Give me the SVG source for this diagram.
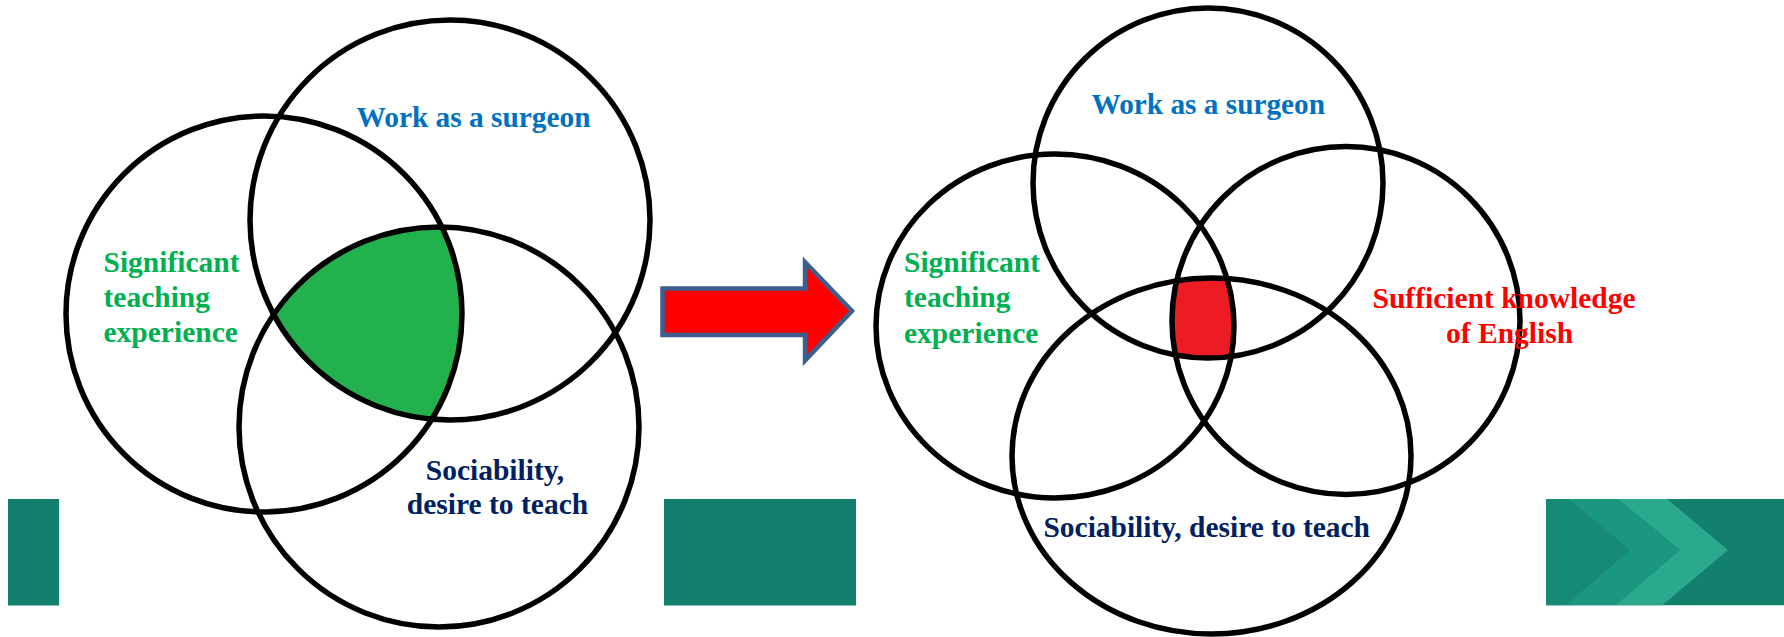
<svg xmlns="http://www.w3.org/2000/svg" width="1784" height="637" viewBox="0 0 1784 637">
<style>
.ring{fill:none;stroke:#000;stroke-width:5.5}
.t{font-family:"Liberation Serif","Times New Roman",serif;font-weight:bold;font-size:29.5px}
.blue{fill:#0070c0}.green{fill:#00b050}.navy{fill:#002060}.red{fill:#ff0000}
.teal{fill:#137f6d}
</style>
<defs>
<clipPath id="cL1"><circle cx="264" cy="314" r="198"/></clipPath>
<clipPath id="cL2"><circle cx="439" cy="427" r="200"/></clipPath>
<clipPath id="cR1"><ellipse cx="1055" cy="326" rx="179" ry="172"/></clipPath>
<clipPath id="cR2"><circle cx="1346" cy="320.5" r="174"/></clipPath>
<clipPath id="cR3"><ellipse cx="1211.5" cy="456" rx="199.5" ry="178"/></clipPath>
<clipPath id="cTeal"><rect x="1546" y="499" width="238" height="106.5"/></clipPath>
</defs>
<rect width="1784" height="637" fill="#fff"/>
<g id="background-bars">
<rect class="teal" x="8" y="499" width="51" height="106.5"/>
<rect class="teal" x="664" y="499" width="192" height="106.5"/>
<g clip-path="url(#cTeal)">
<rect class="teal" x="1546" y="499" width="238" height="106.5"/>
<polygon points="1546,499 1568,499 1630,550 1565,605.5 1546,605.5" fill="#168a74"/>
<polygon points="1568,499 1618,499 1680,550 1615,605.5 1565,605.5 1630,550" fill="#1c977f"/>
<polygon points="1618,499 1667,499 1728,550 1662,605.5 1615,605.5 1680,550" fill="#2ba98e"/>
</g>
</g>
<g id="left-venn">
<g id="left-intersection" clip-path="url(#cL1)"><circle cx="450" cy="220" r="200" fill="#22b14c" clip-path="url(#cL2)"/></g>
<g id="left-work"><circle class="ring" cx="450" cy="220" r="200"/><text class="t blue" x="356.5" y="127" textLength="234" lengthAdjust="spacingAndGlyphs">Work as a surgeon</text></g>
<g id="left-teaching"><circle class="ring" cx="264" cy="314" r="198"/><text class="t green"><tspan x="103.5" y="272">Significant</tspan><tspan x="103.5" y="307">teaching</tspan><tspan x="103.5" y="342">experience</tspan></text></g>
<g id="left-sociability"><circle class="ring" cx="439" cy="427" r="200"/><text class="t navy" text-anchor="middle"><tspan x="495" y="479.5">Sociability,</tspan><tspan x="497.5" y="514">desire to teach</tspan></text></g>
</g>
<g id="connectors">
<polygon points="662.5,288.5 805,288.5 805,262 852,311 805,360.5 805,335 662.5,335" fill="#ff0000" stroke="#3d5f8f" stroke-width="4.5"/>
</g>
<g id="right-venn">
<g id="right-intersection" clip-path="url(#cR1)"><g clip-path="url(#cR2)"><circle cx="1208" cy="183" r="175" fill="#ed1c24" clip-path="url(#cR3)"/></g></g>
<g id="right-work"><circle class="ring" cx="1208" cy="183" r="175"/><text class="t blue" x="1091.5" y="113.5" textLength="233.5" lengthAdjust="spacingAndGlyphs">Work as a surgeon</text></g>
<g id="right-teaching"><ellipse class="ring" cx="1055" cy="326" rx="179" ry="172"/><text class="t green"><tspan x="904" y="272">Significant</tspan><tspan x="904" y="307">teaching</tspan><tspan x="904" y="342.5">experience</tspan></text></g>
<g id="right-english"><circle class="ring" cx="1346" cy="320.5" r="174"/><text class="t red"><tspan x="1372.5" y="307.5">Sufficient knowledge</tspan><tspan x="1446" y="342.5">of English</tspan></text></g>
<g id="right-sociability"><ellipse class="ring" cx="1211.5" cy="456" rx="199.5" ry="178"/><text class="t navy" x="1043.5" y="537" textLength="326.5" lengthAdjust="spacingAndGlyphs">Sociability, desire to teach</text></g>
</g>
</svg>
